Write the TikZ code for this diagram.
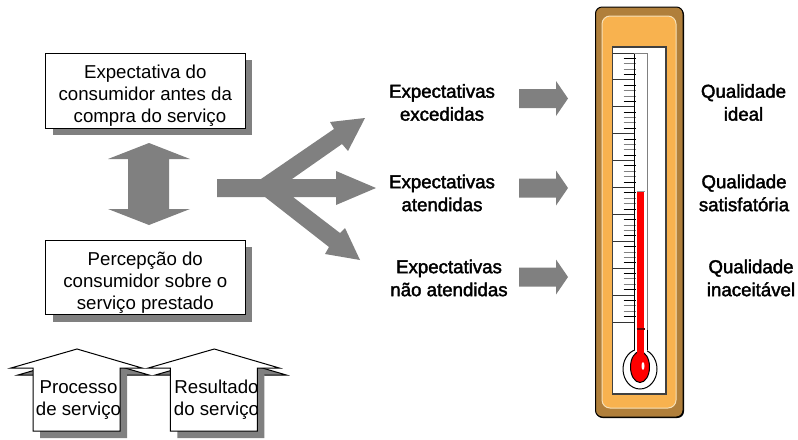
\documentclass[tikz,border=0pt]{standalone}
\usepackage{fontspec}
\setmainfont{Liberation Sans}
\newfontfamily\heavyfont[FakeBold=2]{Liberation Sans}
\usepackage{tikz}
\usetikzlibrary{shadows}
\definecolor{blockgray}{HTML}{808080}
\definecolor{casebrown}{HTML}{B07F3B}
\definecolor{caseorange}{HTML}{F8B24F}
\definecolor{caseline}{HTML}{F6E0B8}
\tikzset{
  px/.style={x=.75pt,y=-.75pt},
  thin line/.style={line width=.75pt},
  blockarrow/.style={fill=blockgray},
  textbox/.style={draw,thin line,fill=white,minimum width=149.6pt,minimum height=56pt,inner sep=0pt,
    drop shadow={shadow xshift=5.25pt,shadow yshift=-5.25pt,fill=blockgray,opacity=1}},
  plainlabel/.style={inner sep=0pt,align=center,font=\fontsize{14}{16.6}\selectfont},
  heavylabel/.style={inner sep=0pt,align=center,font=\heavyfont\fontsize{14}{17.2}\selectfont},
}

\begin{document}
\begin{tikzpicture}[px]
  \useasboundingbox (0,0) rectangle (798,439);
  % boxes on the left
  \node[textbox] (expect) at (145.3,90.8) {};
  \node[textbox] (percep) at (145.3,277.5) {};
  \node[plainlabel] (expecttext) at (145.3,95.5) {Expectativa do\\consumidor antes da\\\hspace*{7pt}compra do serviço};
  \node[plainlabel] (perceptext) at (145.3,282.5) {Percepção do\\consumidor sobre o\\serviço prestado};
  \fill[blockarrow] (149,143) -- (190,159) -- (169,159) -- (169,209) -- (190,209) -- (149,225)
    -- (108,209) -- (128,209) -- (128,159) -- (108,159) -- cycle;
  % the fork
  \fill[blockarrow] (217,179) -- (261,179) -- (334,129) -- (330,122) -- (365,118) -- (348,151) -- (342,144)
    -- (292,179) -- (336,179) -- (336,171) -- (376,188) -- (336,205) -- (336,197) -- (293,197)
    -- (340,233) -- (345,228) -- (360,260) -- (325,254) -- (329,247) -- (265,197) -- (217,197) -- cycle;
  % small arrows
  \foreach \y in {98.5,188,277}
    \fill[blockarrow,shift={(0,\y)}] (519,-9.5) -- (556,-9.5) -- (556,-17.5) -- (568,0) -- (556,17.5)
      -- (556,9.5) -- (519,9.5) -- cycle;
  % arrows at the bottom
  \foreach \x in {0,137.3} {
    \begin{scope}[shift={(\x,0)}]
      \fill[blockgray] (84,356) -- (149,375) -- (127,375) -- (127,438) -- (40,438) -- (40,375) -- (18,375) -- cycle;
      \draw[thin line] (127,375) -- (149,375) -- (84,356) -- (18,375) -- (40,375);
      \draw[thin line,fill=white] (77,349) -- (142,368) -- (120,368) -- (120,431) -- (33,431) -- (33,368)
        -- (11,368) -- cycle;
    \end{scope}
  }
  \node[plainlabel] (process) at (78.5,400) {Processo\\de serviço};
  \node[plainlabel] (result) at (216.5,400) {Resultado\\do serviço};
  % thermometer
  \fill[rounded corners=5pt] (596,8) rectangle (684,418);
  \draw[thin line,fill=casebrown,rounded corners=5pt] (595.5,7) rectangle (683,417);
  \draw[thin line,draw=caseline,fill=caseorange,rounded corners=6pt] (602,16) rectangle (676,408);
  \draw[line width=1pt,draw=black!75,fill=white] (612.5,47) rectangle (666,394);
  \foreach \i in {0,...,10}
    \draw[thin line,draw=black!80] (612.5,{53+26.9*\i}) -- (634,{53+26.9*\i});
  \foreach \i in {0,...,9} {
    \foreach \j/\tone in {1/black,2/blockgray,3/blockgray,4/black}
      \draw[thin line,draw=\tone] (623.5,{53+26.9*\i+5.38*\j}) -- (635.5,{53+26.9*\i+5.38*\j});
  }
  \draw[thin line,fill=white] (640,369) ellipse [x radius=17,y radius=20];
  \fill[white] (634.5,345) rectangle (646.5,356);
  \draw[thin line] (634,53) -- (634,350);
  \draw[thin line,draw=blockgray] (634,53) -- (647,53) -- (647,330);
  \draw[thin line] (647,330) -- (647,350);
  \fill[red] (637,191) rectangle (644,360);
  \draw[thin line,draw=black!40] (636.5,191) -- (644.5,191);
  \draw[line width=1pt,draw=black!60!red] (636.5,329) -- (644.5,329);
  \draw[thin line,fill=red] (640,367) ellipse [x radius=9.5,y radius=15.5];
  \fill[red] (637,345) rectangle (644,356);
  \fill[white] (643,366) ellipse [x radius=1.5,y radius=4];
  % labels
  \node[heavylabel] (over) at (442,102.5) {Expectativas\\excedidas};
  \node[heavylabel] (met) at (442,193) {Expectativas\\atendidas};
  \node[heavylabel] (under) at (449,278) {Expectativas\\não atendidas};
  \node[heavylabel] (ideal) at (743.5,102.5) {Qualidade\\ideal};
  \node[heavylabel] (fine) at (744,193) {Qualidade\\satisfatória};
  \node[heavylabel] (bad) at (751,278) {Qualidade\\inaceitável};
\end{tikzpicture}
\end{document}
